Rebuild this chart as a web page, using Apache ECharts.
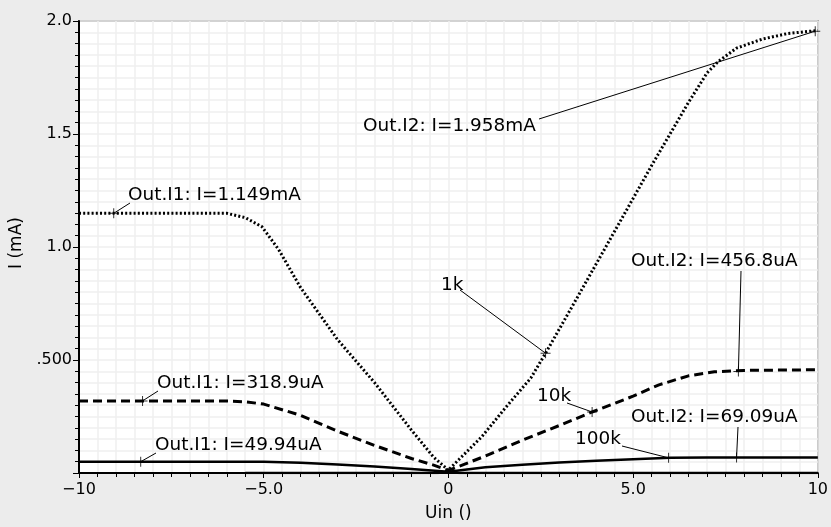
<!DOCTYPE html>
<html><head><meta charset="utf-8">
<script src="https://cdn.jsdelivr.net/npm/echarts@6/dist/echarts.min.js"></script>
<style>html,body{margin:0;padding:0;background:#ececec}#c{width:831px;height:527px}</style>
</head><body><div id="c"></div>
<script>
// ---- tick labels ----
const xTickLabels = ['\u221210', '\u22125.0', '0', '5.0', '10'];
const yTickLabels = ['', '.500', '1.0', '1.5', '2.0'];

// ---- 1k (dotted) ----
const uin1kI1 = [-10, -6.0, -5.5, -5.05, -4.6, -4.0, -3.0, -2.0, -1.0, -0.4, 0.05];
const cur1kI1 = [1.149, 1.149, 1.13, 1.09, 0.99, 0.82, 0.59, 0.40, 0.19, 0.07, 0.005];
const uin1kI2 = [-0.05, 0.9, 1.55, 2.23, 2.63, 3.5, 4.5, 5.5, 6.5, 7.0, 7.3, 7.8, 8.5, 9.2, 10];
const cur1kI2 = [0.005, 0.16, 0.29, 0.42, 0.53, 0.78, 1.07, 1.36, 1.64, 1.77, 1.82, 1.88, 1.92, 1.945, 1.958];

// ---- 10k (dashed) ----
const uin10kI1 = [-10, -6.0, -5.5, -5.0, -4.0, -3.0, -2.0, -1.0, -0.4, 0.05];
const cur10kI1 = [0.3189, 0.3189, 0.315, 0.305, 0.255, 0.185, 0.122, 0.064, 0.035, 0.008];
const uin10kI2 = [-0.05, 1.0, 2.0, 3.0, 3.89, 5.0, 5.7, 6.5, 7.2, 8.0, 10];
const cur10kI2 = [0.008, 0.075, 0.145, 0.21, 0.27, 0.34, 0.39, 0.43, 0.448, 0.454, 0.4568];

// ---- 100k (solid) ----
const uin100kI1 = [-10, -5.0, -4.0, -3.0, -2.0, -1.0, 0, 0.3, 10];
const cur100kI1 = [0.04994, 0.0495, 0.045, 0.038, 0.029, 0.018, 0.006, 0, 0];
const uin100kI2 = [-5.5, -0.3, 0, 1.0, 2.0, 3.0, 4.0, 5.0, 6.0, 7.0, 10];
const cur100kI2 = [0, 0, 0.006, 0.025, 0.036, 0.046, 0.054, 0.061, 0.067, 0.069, 0.06909];

// ---- annotations (markers on curves) ----
const markText = ['Out.I1: I=1.149mA', 'Out.I1: I=318.9uA', 'Out.I1: I=49.94uA',
                  'Out.I2: I=1.958mA', '1k', 'Out.I2: I=456.8uA', '10k', 'Out.I2: I=69.09uA', '100k'];
const markUin  = [-9.06, -8.28, -8.33, 9.93, 2.63, 7.85, 3.89, 7.80, 5.96];
const markCur  = [1.149, 0.3189, 0.04994, 1.955, 0.53, 0.449, 0.27, 0.069, 0.067];

// layout of annotation texts (pixels): text left/middle, and leader start point
const textPos   = [[128,196],[157,384],[155,446],[363,127],[441,286],[631,262],[537,397],[631,418],[575,440]];
const leaderPos = [[130,203],[158,391],[156,453],[539,119],[460,290],[741,271],[567,403],[738,427],[622,446]];

const zip = (a, b) => a.map((v, i) => [v, b[i]]);
const chart = echarts.init(document.getElementById('c'), null, {renderer: 'canvas'});
const FONT = 'DejaVu Sans';
const lineBase = {type: 'line', showSymbol: false, silent: true, animation: false, z: 3};
const gridLine = {color: '#efefef', width: 1.5};

chart.setOption({
  backgroundColor: '#ececec',
  animation: false,
  textStyle: {fontFamily: FONT},
  grid: {left: 79, right: 12, top: 21, bottom: 50, show: true, backgroundColor: '#ffffff', borderColor: '#555', borderWidth: 1.5},
  xAxis: {
    type: 'value', min: -10, max: 10, interval: 5,
    name: 'Uin ()', nameLocation: 'middle', nameGap: 32,
    nameTextStyle: {fontFamily: FONT, fontSize: 17, color: '#000'},
    axisLine: {show: true, onZero: false, lineStyle: {color: '#000', width: 2}},
    axisTick: {show: true, length: 5, lineStyle: {color: '#000', width: 1}},
    minorTick: {show: true, splitNumber: 10, length: 4, lineStyle: {color: '#000', width: 1}},
    splitLine: {show: true, lineStyle: gridLine},
    minorSplitLine: {show: true, lineStyle: gridLine},
    axisLabel: {margin: 9, fontFamily: FONT, fontSize: 16, color: '#000',
      formatter: v => xTickLabels[Math.round((v + 10) / 5)]}
  },
  yAxis: {
    type: 'value', min: 0, max: 2, interval: 0.5,
    name: 'I (mA)', nameLocation: 'middle', nameGap: 52, nameRotate: 90,
    nameTextStyle: {fontFamily: FONT, fontSize: 17, color: '#000', padding: [0, 0, 0, 8]},
    axisLine: {show: true, onZero: false, lineStyle: {color: '#000', width: 2}},
    axisTick: {show: true, length: 6, lineStyle: {color: '#000', width: 1}},
    minorTick: {show: true, splitNumber: 10, length: 4, lineStyle: {color: '#000', width: 1}},
    splitLine: {show: true, lineStyle: gridLine},
    minorSplitLine: {show: true, lineStyle: gridLine},
    axisLabel: {margin: 7, fontFamily: FONT, fontSize: 16, color: '#000',
      formatter: v => yTickLabels[Math.round(v / 0.5)]}
  },
  series: [
    Object.assign({}, lineBase, {name: '1k I1', data: zip(uin1kI1, cur1kI1), lineStyle: {color: '#000', width: 3, type: [2, 2.2]}}),
    Object.assign({}, lineBase, {name: '1k I2', data: zip(uin1kI2, cur1kI2), lineStyle: {color: '#000', width: 3, type: [2, 2.2]}}),
    Object.assign({}, lineBase, {name: '10k I1', data: zip(uin10kI1, cur10kI1), lineStyle: {color: '#000', width: 3, type: [9, 5]}}),
    Object.assign({}, lineBase, {name: '10k I2', data: zip(uin10kI2, cur10kI2), lineStyle: {color: '#000', width: 3, type: [9, 5]}}),
    Object.assign({}, lineBase, {name: '100k I1', data: zip(uin100kI1, cur100kI1), lineStyle: {color: '#000', width: 2.5}}),
    Object.assign({}, lineBase, {name: '100k I2', data: zip(uin100kI2, cur100kI2), lineStyle: {color: '#000', width: 2.5}}),
    {type: 'scatter', name: 'markers', silent: true, z: 5, data: zip(markUin, markCur),
     symbol: 'path://M4.5,0h1v10h-1z M0,4.5h10v1h-10z', symbolSize: 10, itemStyle: {color: '#000'}}
  ]
});

const gfx = [];
markText.forEach((t, i) => {
  const p = chart.convertToPixel({gridIndex: 0}, [markUin[i], markCur[i]]);
  gfx.push({type: 'line', silent: true, z: 10, shape: {x1: leaderPos[i][0], y1: leaderPos[i][1], x2: p[0], y2: p[1]},
            style: {stroke: '#000', lineWidth: 1}});
  gfx.push({type: 'text', silent: true, z: 11, x: textPos[i][0], y: textPos[i][1], scaleX: 1.085,
            style: {text: t, fill: '#000', font: '17px "' + FONT + '"', textAlign: 'left', textVerticalAlign: 'middle'}});
});
chart.setOption({graphic: gfx});
</script></body></html>
